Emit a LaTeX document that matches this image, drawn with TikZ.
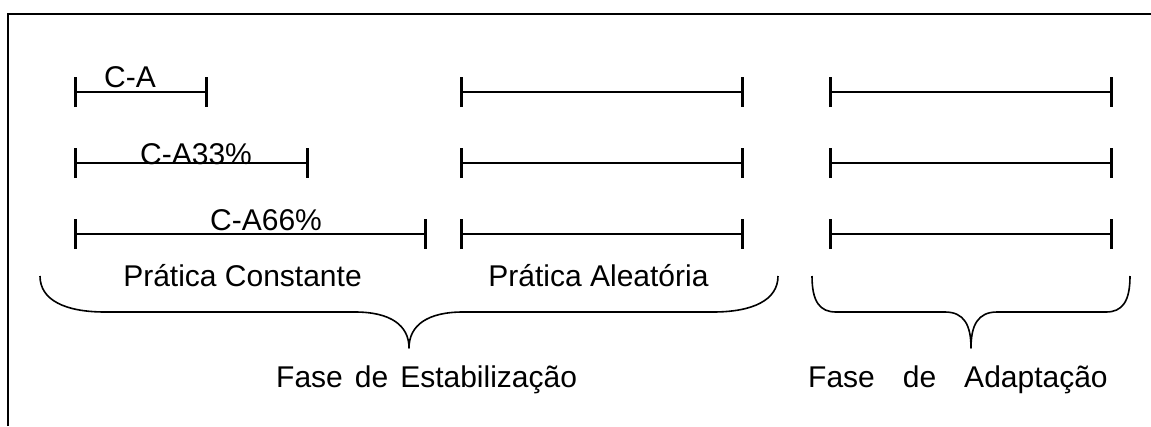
\documentclass[tikz,border=0pt]{standalone}
\usepackage{fontspec}
\setmainfont{Liberation Sans}
\usetikzlibrary{arrows.meta}
\begin{document}
\begin{tikzpicture}[x=1pt,y=-1pt,
  bar/.style={line width=2pt,{Bar[width=30pt,line width=2.6pt]}-{Bar[width=30pt,line width=2.6pt]}},
  lbl/.style={inner sep=0pt,font=\fontsize{30}{36}\selectfont},
  brace/.style={line width=1.6pt,line join=round}]
\useasboundingbox (0,0) rectangle (1151,426);
% frame (cropped: only top and left edges visible)
\coordinate (fbl) at (8,426);
\coordinate (ftl) at (8,14);
\coordinate (ftr) at (1151,14);
\draw[line width=2pt] (fbl) -- (ftl) -- (ftr);
% bars, column 1 (constant practice)
\coordinate (c1s) at (74,92);  \coordinate (c1e) at (208,92);
\coordinate (c2s) at (74,163); \coordinate (c2e) at (309,163);
\coordinate (c3s) at (74,234); \coordinate (c3e) at (427,234);
\draw[bar] (c1s) -- (c1e);
\draw[bar] (c2s) -- (c2e);
\draw[bar] (c3s) -- (c3e);
% column 2 (random practice)
\coordinate (r1s) at (460,92);  \coordinate (r1e) at (744,92);
\coordinate (r2s) at (460,163); \coordinate (r2e) at (744,163);
\coordinate (r3s) at (460,234); \coordinate (r3e) at (744,234);
\draw[bar] (r1s) -- (r1e);
\draw[bar] (r2s) -- (r2e);
\draw[bar] (r3s) -- (r3e);
% column 3 (adaptation)
\coordinate (a1s) at (829,92);  \coordinate (a1e) at (1113,92);
\coordinate (a2s) at (829,163); \coordinate (a2e) at (1113,163);
\coordinate (a3s) at (829,234); \coordinate (a3e) at (1113,234);
\draw[bar] (a1s) -- (a1e);
\draw[bar] (a2s) -- (a2e);
\draw[bar] (a3s) -- (a3e);
% bar labels
\node[lbl,anchor=base west] (ca)   at (104,87)  {C-A};
\node[lbl,anchor=base west] (ca33) at (140,164) {C-A33\%};
\node[lbl,anchor=base west] (ca66) at (210,230) {C-A66\%};
% practice labels
\node[lbl,anchor=base] (pc) at (242.5,286) {Prática Constante};
\node[lbl,anchor=base] (pa) at (598.5,286) {Prática Aleatória};
% braces
\coordinate (b1l) at (40,276);
\coordinate (b1r) at (778,276);
\coordinate (b1t) at (409,348);
\draw[brace] (b1l) .. controls (40,300) and (65,312) .. (105,312)
  -- (355,312) .. controls (390,312) and (409,325) .. (b1t)
  .. controls (409,325) and (428,312) .. (463,312)
  -- (713,312) .. controls (753,312) and (778,300) .. (b1r);
\coordinate (b2l) at (812,276);
\coordinate (b2r) at (1130,276);
\coordinate (b2t) at (971,348);
\draw[brace] (b2l) .. controls (812,302) and (820,312) .. (836,312)
  -- (945,312) .. controls (964,312) and (971,325) .. (b2t)
  .. controls (971,325) and (978,312) .. (997,312)
  -- (1106,312) .. controls (1122,312) and (1130,302) .. (b2r);
% phase labels
\node[lbl,anchor=base west] (fe) at (276,387) {Fase\hspace{12pt}de\hspace{12pt}Estabilização};
\node[lbl,anchor=base west] (fa) at (808,387) {Fase\hspace{28pt}de\hspace{28pt}Adaptação};
\end{tikzpicture}
\end{document}
